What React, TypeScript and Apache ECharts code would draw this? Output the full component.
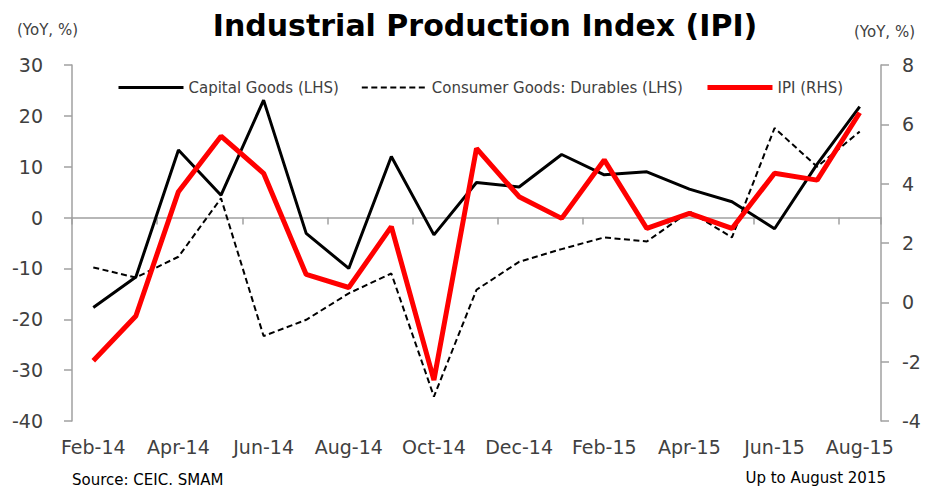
import React, { useEffect, useRef } from "react";
import * as echarts from "echarts";

const categories = [
  "Feb-14", "Mar-14", "Apr-14", "May-14", "Jun-14", "Jul-14", "Aug-14", "Sep-14", "Oct-14",
  "Nov-14", "Dec-14", "Jan-15", "Feb-15", "Mar-15", "Apr-15", "May-15", "Jun-15", "Jul-15", "Aug-15",
];

const capitalGoods = [-17.7, -11.7, 13.3, 4.4, 23.1, -3.1, -10.0, 12.0, -3.4, 6.9, 6.0, 12.4, 8.4, 9.0, 5.6, 3.1, -2.2, 10.5, 21.8];
const consumerDurables = [-9.8, -11.8, -7.7, 3.8, -23.3, -20.1, -14.9, -11.0, -35.2, -14.2, -8.7, -6.2, -3.9, -4.7, 1.2, -3.9, 17.6, 10.0, 16.9];
const ipi = [-1.97, -0.46, 3.73, 5.6, 4.35, 0.94, 0.5, 2.55, -2.62, 5.19, 3.56, 2.83, 4.8, 2.49, 3.0, 2.49, 4.35, 4.12, 6.39];

const leftTicks = { min: -40, max: 30, interval: 10 };
const rightTicks = { min: -4, max: 8, interval: 2 };

const FONT = "'DejaVu Sans', Verdana, sans-serif";
const AXIS_GRAY = "#a0a0a0";
const TEXT = "#404040";

export default function App() {
  const ref = useRef<HTMLDivElement>(null);
  useEffect(() => {
    if (!ref.current) return;
    const chart = echarts.init(ref.current, null, { renderer: "svg" });
    chart.setOption({
      animation: false,
      backgroundColor: "#ffffff",
      textStyle: { fontFamily: FONT },
      grid: { left: 72, right: 45, top: 65, bottom: 69, containLabel: false },
      legend: {
        left: 112,
        top: 75,
        itemWidth: 65,
        itemHeight: 14,
        itemGap: 22,
        itemStyle: { opacity: 0, borderWidth: 0 },
        textStyle: { fontFamily: FONT, fontSize: 15, color: TEXT },
        data: [
          { name: "Capital Goods (LHS)", lineStyle: { width: 3 } },
          { name: "Consumer Goods: Durables (LHS)", lineStyle: { width: 2, type: [6, 3.5] } },
          { name: "IPI (RHS)", lineStyle: { width: 5 } },
        ],
      },
      graphic: [
        {
          type: "text",
          x: 485,
          y: 25,
          style: {
            text: "Industrial Production Index (IPI)",
            font: `bold 30px ${FONT}`,
            fill: "#000",
            textAlign: "center",
            textVerticalAlign: "middle",
          },
        },
        {
          type: "text",
          x: 17,
          y: 30,
          style: { text: "(YoY, %)", font: `15px ${FONT}`, fill: TEXT, textAlign: "left", textVerticalAlign: "middle" },
        },
        {
          type: "text",
          x: 915,
          y: 32,
          style: { text: "(YoY, %)", font: `15px ${FONT}`, fill: TEXT, textAlign: "right", textVerticalAlign: "middle" },
        },
        {
          type: "text",
          x: 72,
          y: 480,
          style: { text: "Source: CEIC. SMAM", font: `15px ${FONT}`, fill: "#000", textAlign: "left", textVerticalAlign: "middle" },
        },
        {
          type: "text",
          x: 886,
          y: 478,
          style: { text: "Up to August 2015", font: `15px ${FONT}`, fill: "#000", textAlign: "right", textVerticalAlign: "middle" },
        },
      ],
      xAxis: [
        {
          type: "category",
          data: categories,
          boundaryGap: true,
          position: "bottom",
          axisLine: { show: true, onZero: true, onZeroAxisIndex: 0, lineStyle: { color: AXIS_GRAY, width: 1.5 } },
          axisTick: { show: true, interval: 1, length: 7, inside: false, lineStyle: { color: AXIS_GRAY, width: 1.5 } },
          axisLabel: { show: false },
          splitLine: { show: false },
        },
        {
          type: "category",
          data: categories,
          boundaryGap: true,
          position: "bottom",
          axisLine: { show: false, onZero: false },
          axisTick: { show: false },
          axisLabel: { show: true, interval: 1, margin: 16, fontSize: 19, color: TEXT, fontFamily: FONT },
          splitLine: { show: false },
        },
      ],
      yAxis: [
        {
          type: "value",
          position: "left",
          min: leftTicks.min,
          max: leftTicks.max,
          interval: leftTicks.interval,
          axisLine: { show: true, lineStyle: { color: AXIS_GRAY, width: 1.5 } },
          axisTick: { show: true, length: 8, lineStyle: { color: AXIS_GRAY, width: 1.5 } },
          axisLabel: { margin: 29, fontSize: 19, color: TEXT, fontFamily: FONT },
          splitLine: { show: false },
        },
        {
          type: "value",
          position: "right",
          min: rightTicks.min,
          max: rightTicks.max,
          interval: rightTicks.interval,
          axisLine: { show: true, lineStyle: { color: AXIS_GRAY, width: 1.5 } },
          axisTick: { show: true, length: 8, lineStyle: { color: AXIS_GRAY, width: 1.5 } },
          axisLabel: { margin: 21, fontSize: 19, color: TEXT, fontFamily: FONT },
          splitLine: { show: false },
        },
      ],
      series: [
        {
          name: "Capital Goods (LHS)",
          type: "line",
          xAxisIndex: 0,
          yAxisIndex: 0,
          data: capitalGoods,
          symbol: "none",
          lineStyle: { color: "#000000", width: 3 },
          itemStyle: { color: "#000000" },
        },
        {
          name: "Consumer Goods: Durables (LHS)",
          type: "line",
          xAxisIndex: 0,
          yAxisIndex: 0,
          data: consumerDurables,
          symbol: "none",
          lineStyle: { color: "#000000", width: 2, type: [6, 3.5] },
          itemStyle: { color: "#000000" },
        },
        {
          name: "IPI (RHS)",
          type: "line",
          xAxisIndex: 0,
          yAxisIndex: 1,
          data: ipi,
          symbol: "none",
          lineStyle: { color: "#ff0000", width: 5 },
          itemStyle: { color: "#ff0000" },
        },
      ],
    });
    return () => chart.dispose();
  }, []);
  return <div ref={ref} style={{ position: "fixed", left: 0, top: 0, width: 926, height: 490 }} />;
}
